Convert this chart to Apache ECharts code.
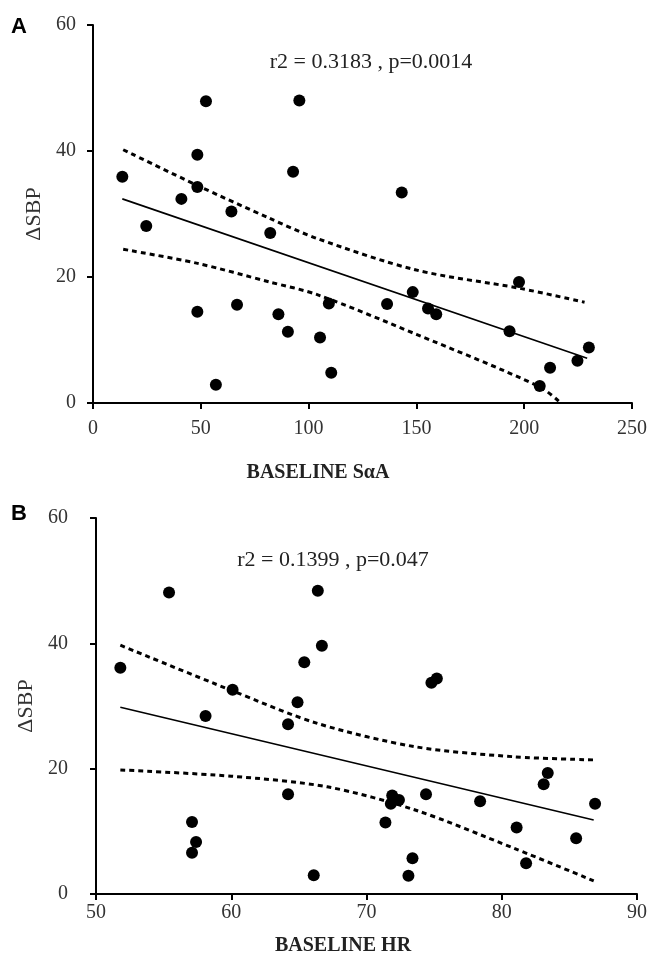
<!DOCTYPE html>
<html>
<head>
<meta charset="utf-8">
<script src="https://cdn.jsdelivr.net/npm/echarts@6/dist/echarts.min.js"></script>
<style>
  html, body { margin: 0; padding: 0; background: #fff; }
  #chart { width: 650px; height: 961px; }
</style>
</head>
<body>
<div id="chart"></div>
<script>
// panel A: baseline SαA vs ΔSBP
const saaPoints = [
  [13.6, 35.9], [24.7, 28.1], [52.4, 47.9], [95.7, 48.0], [48.4, 39.4],
  [92.8, 36.7], [48.4, 34.3], [41, 32.4], [64.2, 30.4], [82.2, 27.0],
  [48.4, 14.5], [66.8, 15.6], [86, 14.1], [90.4, 11.3], [105.3, 10.4],
  [57, 2.9], [109.4, 15.8], [110.5, 4.8], [143.2, 33.4], [136.4, 15.7],
  [148.3, 17.6], [155.4, 15.0], [159.2, 14.1], [197.6, 19.2], [193.2, 11.4],
  [230, 8.8], [224.7, 6.7], [212, 5.6], [207.2, 2.7]
]
const saaFit = [[13.6, 32.4], [229.2, 7.1]]
const saaUpper = [[14, 40.2], [48, 34.6], [82, 29.3], [104, 26.1], [150, 21.1], [198, 18.2], [228, 16.0]]
const saaLower = [[14, 24.4], [48, 22.2], [82, 19.2], [104, 17.2], [150, 10.9], [207, 2.6], [217, 0]]

// panel B: baseline HR vs ΔSBP
const hrPoints = [
  [51.8, 36.1], [55.4, 48.1], [58.1, 28.4], [60.1, 32.6], [57.1, 11.5],
  [57.4, 8.3], [57.1, 6.6], [64.2, 27.1], [64.9, 30.6], [65.4, 37.0],
  [66.4, 48.4], [66.7, 39.6], [64.2, 15.9], [66.1, 3.0], [74.8, 33.7],
  [75.2, 34.4], [71.9, 15.7], [71.8, 14.4], [72.4, 15.0], [71.4, 11.4],
  [74.4, 15.9], [78.4, 14.8], [73.4, 5.7], [73.1, 2.9], [81.1, 10.6],
  [81.8, 4.9], [83.4, 19.3], [83.1, 17.5], [85.5, 8.9], [86.9, 14.4]
]
const hrFit = [[51.8, 29.8], [86.8, 11.8]]
const hrUpper = [[51.8, 39.7], [60, 32.5], [66.4, 27.2], [73.6, 23.5], [80.9, 21.9], [86.8, 21.4]]
const hrLower = [[51.8, 19.8], [60, 18.8], [67.1, 17.1], [73.6, 13.4], [80.9, 7.3], [86.8, 2.1]]

const serif = '"Liberation Serif", "DejaVu Serif", serif'
const ink = '#000'
const tickText = { color: '#333', fontFamily: serif, fontSize: 20 }

function xAx(idx, min, max, interval, margin) {
  return {
    type: 'value', gridIndex: idx, min, max, interval,
    splitLine: { show: false },
    axisLine: { lineStyle: { color: ink, width: 2 } },
    axisTick: { length: 6, lineStyle: { color: ink, width: 2 } },
    axisLabel: { ...tickText, margin }
  }
}

function yAx(idx, margin) {
  return {
    type: 'value', gridIndex: idx, min: 0, max: 60, interval: 20,
    name: 'ΔSBP', nameLocation: 'middle', nameGap: 48,
    nameTextStyle: { color: '#333', fontFamily: serif, fontSize: 22 },
    splitLine: { show: false },
    axisLine: { show: true, lineStyle: { color: ink, width: 2 } },
    axisTick: { show: true, length: 6, lineStyle: { color: ink, width: 2 } },
    axisLabel: { ...tickText, margin }
  }
}

function dots(idx, data) {
  return { type: 'scatter', xAxisIndex: idx, yAxisIndex: idx, data, symbolSize: 12, itemStyle: { color: ink, opacity: 1 }, z: 3 }
}
function line(idx, data, dashed) {
  return {
    type: 'line', xAxisIndex: idx, yAxisIndex: idx, data, showSymbol: false, smooth: dashed ? 0.3 : false,
    lineStyle: dashed ? { color: ink, width: 3, type: [5, 4] } : { color: ink, width: 1.6 }
  }
}

const chart = echarts.init(document.getElementById('chart'))
chart.setOption({
  animation: false,
  grid: [
    { left: 93, top: 25, right: 9, bottom: 558 },
    { left: 96, top: 518, right: 7, bottom: 67 }
  ],
  xAxis: [xAx(0, 0, 250, 50, 16), xAx(1, 50, 90, 10, 9)],
  yAxis: [yAx(0, 17), yAx(1, 28)],
  graphic: [
    { type: 'text', left: 11, top: 16, style: { text: 'A', fontFamily: '"Liberation Sans", Arial, sans-serif', fontWeight: 'bold', fontSize: 22, fill: ink } },
    { type: 'text', left: 11, top: 503, style: { text: 'B', fontFamily: '"Liberation Sans", Arial, sans-serif', fontWeight: 'bold', fontSize: 22, fill: ink } },
    { type: 'text', x: 371, y: 62, style: { text: 'r2 = 0.3183 , p=0.0014', fontFamily: serif, fontSize: 22, fill: '#222', align: 'center', verticalAlign: 'middle' } },
    { type: 'text', x: 333, y: 560, style: { text: 'r2 = 0.1399 , p=0.047', fontFamily: serif, fontSize: 22, fill: '#222', align: 'center', verticalAlign: 'middle' } },
    { type: 'text', x: 318, y: 473, style: { text: 'BASELINE SαA', fontFamily: serif, fontWeight: 'bold', fontSize: 20, fill: '#222', align: 'center', verticalAlign: 'middle' } },
    { type: 'text', x: 343, y: 946, style: { text: 'BASELINE HR', fontFamily: serif, fontWeight: 'bold', fontSize: 20, fill: '#222', align: 'center', verticalAlign: 'middle' } }
  ],
  series: [
    dots(0, saaPoints), line(0, saaFit, false), line(0, saaUpper, true), line(0, saaLower, true),
    dots(1, hrPoints), line(1, hrFit, false), line(1, hrUpper, true), line(1, hrLower, true)
  ]
})
</script>
</body>
</html>
